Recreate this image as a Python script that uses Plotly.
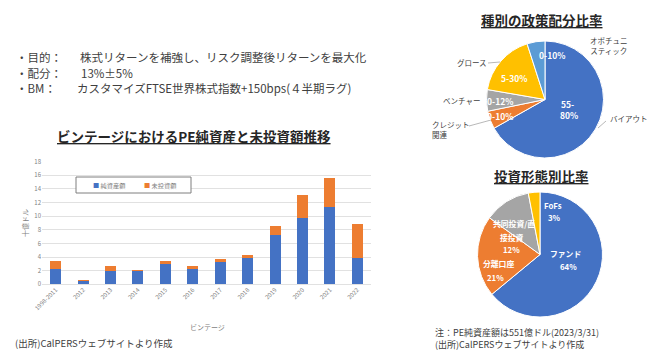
import plotly.graph_objects as go

FONT = "Noto Sans CJK JP"
W, H = 660, 355

# ---- data ----
vintages = ["1998-2011", "2012", "2013", "2014", "2015", "2016", "2017",
            "2018", "2019", "2020", "2021", "2022"]
net_assets = [2.25, 0.55, 2.0, 1.9, 3.0, 2.3, 3.3, 3.9, 7.2, 9.8, 11.4, 3.8]
unfunded = [1.1, 0.05, 0.65, 0.25, 0.35, 0.35, 0.35, 0.45, 1.35, 3.25, 4.25, 5.1]
bar_names = ["純資産額", "未投資額"]
y_ticks = [0, 2, 4, 6, 8, 10, 12, 14, 16, 18]

policy_labels = ["バイアウト", "クレジット関連", "ベンチャー", "グロース", "オポチュニスティック"]
policy_values = [67.5, 5, 6, 17.5, 5]
policy_ranges = ["55-|80%", "0-10%", "0-12%", "5-30%", "0-10%"]

form_labels = ["ファンド", "分離口座", "共同投資/直|接投資", "FoFs"]
form_values = [64, 21, 12, 3]

bullet_heads = ["・目的：", "・配分：", "・BM："]
bullet_bodies = ["株式リターンを補強し、リスク調整後リターンを最大化", "13%±5%",
                 "カスタマイズFTSE世界株式指数+150bps(４半期ラグ)"]

BLUE, ORANGE, GRAY, YELLOW, LBLUE = "#4472C4", "#ED7D31", "#A5A5A5", "#FFC000", "#5B9BD5"
BAR_COLORS = [BLUE, ORANGE]


def px(x):
    return x / W


def py(y):
    return 1 - y / H


fig = go.Figure()

for name, vals, col in zip(bar_names, [net_assets, unfunded], BAR_COLORS):
    fig.add_trace(go.Bar(x=vintages, y=vals, name=name, showlegend=False,
                         marker=dict(color=col, line=dict(width=0)), hoverinfo="skip"))

fig.add_trace(go.Pie(
    labels=policy_labels, values=policy_values,
    textinfo="none", sort=False, direction="clockwise", rotation=0,
    marker=dict(colors=[BLUE, ORANGE, GRAY, YELLOW, LBLUE], line=dict(color="white", width=1)),
    domain=dict(x=[px(486), px(604)], y=[py(158), py(41)]),
    showlegend=False, hoverinfo="skip",
))

fig.add_trace(go.Pie(
    labels=form_labels, values=form_values,
    textinfo="none", sort=False, direction="clockwise", rotation=0,
    marker=dict(colors=[BLUE, ORANGE, GRAY, YELLOW], line=dict(color="white", width=1)),
    domain=dict(x=[px(477.5), px(602.5)], y=[py(317), py(192)]),
    showlegend=False, hoverinfo="skip",
))

ann = []


def txt(x, y, s, size=9, color="#404040", xanchor="left", bold=False, align="left", **kw):
    if bold:
        s = f"<b>{s}</b>"
    ann.append(dict(x=px(x), y=py(y), xref="paper", yref="paper", text=s, showarrow=False,
                    xanchor=xanchor, yanchor="middle", borderpad=0, align=align,
                    font=dict(family=FONT, size=size, color=color), **kw))


# top bullet text
for yy, head, body, bx in zip([57, 72.6, 88.2], bullet_heads, bullet_bodies, [79, 80, 76]):
    txt(15, yy, head, 11.5)
    txt(bx, yy, body, 11.5)

# titles
txt(194, 136, "<u>ビンテージにおけるPE純資産と未投資額推移</u>", 13.5, "#262626", "center", True)
txt(542, 20, "<u>種別の政策配分比率</u>", 13.5, "#262626", "center", True)
txt(541, 176, "<u>投資形態別比率</u>", 13.5, "#262626", "center", True)

# bar chart extras
txt(208, 327, "ビンテージ", 7, "#7F7F7F", "center")
txt(14, 343, "(出所)CalPERSウェブサイトより作成", 9.5, "#404040")

# legend of the bar chart (box + coloured squares)
leg_x = [92, 143]
for x, name, col in zip(leg_x, bar_names, BAR_COLORS):
    txt(x, 185, f"<span style='color:{col}'>■</span> {name}", 6.2, "#7F7F7F")

# notes under pie 2
txt(434, 332.5, "注：PE純資産額は551億ドル(2023/3/31)", 9, "#404040")
txt(434, 344, "(出所)CalPERSウェブサイトより作成", 9, "#404040")

# pie 1 outside labels
txt(609, 45, "オポチュニ<br>スティック", 7.5, "#404040", "center", align="center")
txt(472, 63, "グロース", 7.5, "#404040", "center")
txt(461, 100, "ベンチャー", 7.5, "#404040", "center")
txt(451, 130, "クレジット<br>関連", 7.5, "#404040", "center", align="left")
txt(629, 118, "バイアウト", 7.5, "#404040", "center")

# pie 1 inside labels (policy ranges); "|" marks a line break
p1_pos = [[(567, 104), (569, 115)], [(500, 116)], [(500, 101)], [(514, 78)], [(552, 55)]]
for pos, s in zip(p1_pos, policy_ranges):
    for (x, y), part in zip(pos, s.split("|")):
        txt(x, y, part, 8.5, "white", "center", True)

# pie 2 labels
p2_pos = [[(565, 253), (568, 266)], [(498, 263), (496, 277)],
          [(514, 223), (512, 237), (511, 250)], [(553, 205), (554, 218)]]
for pos, lab, v in zip(p2_pos, form_labels, form_values):
    parts = lab.split("|") + [f"{v}%"]
    for (x, y), part in zip(pos, parts):
        txt(x, y, part, 7.8, "white", "center", True)

# leader lines + legend box
lines = [((488, 63), (500, 62)), ((469, 126), (491, 120)), ((606, 121), (598, 128))]
shapes = [dict(type="line", xref="paper", yref="paper", x0=px(a[0]), y0=py(a[1]),
               x1=px(b[0]), y1=py(b[1]), line=dict(color="#A6A6A6", width=0.8))
          for a, b in lines]
shapes.append(dict(type="rect", xref="paper", yref="paper", x0=px(76), x1=px(191),
                   y0=py(193), y1=py(177), line=dict(color="#7F7F7F", width=1),
                   fillcolor="white", layer="above"))

fig.update_layout(
    width=W, height=H, margin=dict(l=0, r=0, t=0, b=0),
    paper_bgcolor="white", plot_bgcolor="white", hovermode=False,
    barmode="stack", bargap=0.6, showlegend=False,
    font=dict(family=FONT, color="#595959"),
    xaxis=dict(domain=[px(42), px(371)], tickangle=-45, showline=False, showgrid=False,
               ticks="", tickfont=dict(size=6, color="#7F7F7F"), anchor="y",
               automargin=False),
    yaxis=dict(domain=[py(284.3), py(161.7)], range=[0, 18], tickvals=y_ticks,
               showgrid=True, gridcolor="#D9D9D9", gridwidth=0.8, zeroline=True,
               zerolinecolor="#D9D9D9", zerolinewidth=0.8, showline=False,
               tickfont=dict(size=6, color="#7F7F7F"), ticks="", automargin=False,
               title=dict(text="十億ドル", font=dict(size=7, color="#7F7F7F"), standoff=4)),
    annotations=ann, shapes=shapes,
)

fig.write_html(
    "out.html",
    config={"displayModeBar": False, "staticPlot": True},
    post_script="document.documentElement.style.overflow='hidden';"
                "document.body.style.margin='0';document.body.style.overflow='hidden';",
)
